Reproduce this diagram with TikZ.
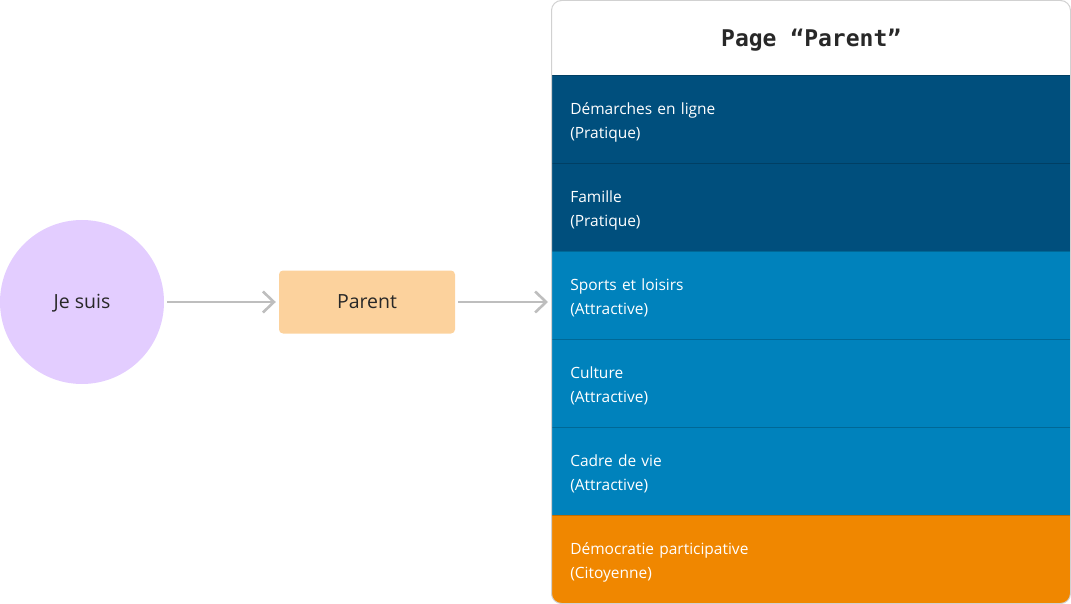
\documentclass[tikz,border=0pt]{standalone}
\usepackage{fontspec}
\setmainfont{Open Sans}
\newfontfamily\titlefont{DejaVu Sans Mono}
\usetikzlibrary{arrows.meta}

\definecolor{lilas}{RGB}{227,205,255}
\definecolor{peche}{RGB}{252,210,157}
\definecolor{bleufonce}{RGB}{0,79,125}
\definecolor{bleuclair}{RGB}{0,130,188}
\definecolor{orangecit}{RGB}{240,135,0}
\definecolor{fleche}{RGB}{190,190,190}
\definecolor{texte}{RGB}{40,40,40}

\tikzset{
  rubrique/.style={rectangle, anchor=north west, minimum width=520pt,
    minimum height=88pt, text width=482pt, inner xsep=19pt, align=left,
    text height=14pt, text depth=24pt,
    text=white, font=\fontsize{15.5}{24}\selectfont, draw=#1!80!black,
    line width=0.6pt},
  lien/.style={draw=fleche, line width=2.8pt, shorten <=3pt, shorten >=3pt,
    -{Straight Barb[length=11pt,width=21pt,line width=2.6pt]}},
}

\begin{document}
\begin{tikzpicture}[x=1pt, y=-1pt]
  \useasboundingbox (0,0) rectangle (1071,604);

  \node[circle, fill=lilas, minimum size=164pt, text=texte,
        text height=13.5pt, text depth=0pt,
        font=\fontsize{19.5}{22}\selectfont] (jesuis) at (82,302) {Je suis};
  \node[rectangle, rounded corners=4pt, fill=peche, minimum width=176pt,
        minimum height=63pt, text=texte, text height=13.5pt, text depth=0pt,
        font=\fontsize{19.5}{22}\selectfont]
        (parent) at (367,302) {Parent};

  % page parent
  \begin{scope}
    \clip[rounded corners=10pt] (551.5,0.5) rectangle (1070.5,603.5);
    \node[rectangle, anchor=north west, fill=white, minimum width=520pt,
          minimum height=75pt, text=texte, text height=17pt, text depth=0pt,
          font=\titlefont\bfseries\fontsize{23}{28}\selectfont]
          (titre) at (551,0) {Page “Parent”};
    \node[rubrique=bleufonce, fill=bleufonce] (demarches) at (551,75)
          {Démarches en ligne\\(Pratique)};
    \node[rubrique=bleufonce, fill=bleufonce] (famille) at (551,163)
          {Famille\\(Pratique)};
    \node[rubrique=bleuclair, fill=bleuclair] (sports) at (551,251)
          {Sports et loisirs\\(Attractive)};
    \node[rubrique=bleuclair, fill=bleuclair] (culture) at (551,339)
          {Culture\\(Attractive)};
    \node[rubrique=bleuclair, fill=bleuclair] (cadre) at (551,427)
          {Cadre de vie\\(Attractive)};
    \node[rubrique=orangecit, fill=orangecit] (democratie) at (551,515)
          {Démocratie participative\\(Citoyenne)};
  \end{scope}
  \node[rectangle, rounded corners=10pt, draw=black!18, line width=1pt,
        minimum width=519pt, minimum height=603pt] (page) at (811,302) {};

  \draw[lien] (jesuis) -- (parent);
  \draw[lien] (parent) -- (page);
\end{tikzpicture}
\end{document}
